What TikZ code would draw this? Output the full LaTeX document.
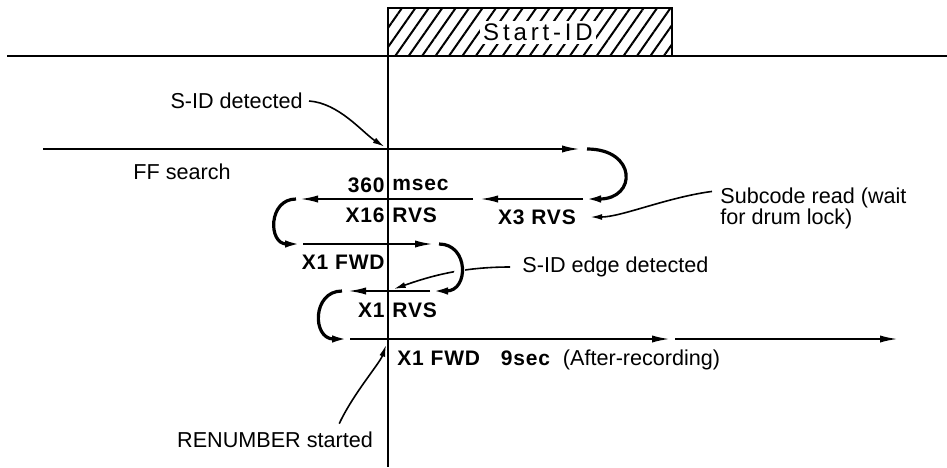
\documentclass[tikz,border=0pt]{standalone}
\usepackage{fontspec}
\setmainfont{Liberation Sans}
\newfontfamily\tapefont[LetterSpace=4]{Liberation Sans}
\newfontfamily\idfont[LetterSpace=16]{Liberation Sans}
\usepackage{tikz}
\usetikzlibrary{arrows.meta,positioning,patterns.meta}
\tikzset{
  >={Latex[length=9pt,width=3.6pt]},
  lab/.style={font=\fontsize{10.8}{13}\selectfont,inner sep=0pt},
  tlab/.style={font=\tapefont\bfseries\fontsize{10.5}{12}\selectfont,inner sep=0pt},
  idlab/.style={font=\idfont\fontsize{12}{14}\selectfont,fill=white,inner sep=1.5pt},
  thk/.style={line width=1pt},
  hatch/.style={thk,pattern={Lines[angle=55,distance=5.5pt,line width=1pt]}},
  tape/.style={->,line width=1pt},
  turn/.style={->,line width=1.6pt},
  lead/.style={-{Latex[length=6pt,width=3pt]},line width=0.8pt},
  halo/.style={preaction={draw=white,line width=5pt,-}},
}
\begin{document}
\begin{tikzpicture}[x=0.5pt,y=-0.5pt]
\useasboundingbox (0,0) rectangle (947,467);
\coordinate (gl) at (7,56); \coordinate (gr) at (947,56);
\coordinate (vt) at (388,8); \coordinate (vb) at (388,467); \coordinate (idr) at (672,56);
\draw[hatch] (vt) rectangle (idr);
\node[idlab] (startid) at (538,32) {Start-ID};
\draw[thk] (gl) -- (gr); \draw[thk] (vt) -- (vb);

\coordinate (a0) at (43,149); \coordinate (a1) at (580,149);
\coordinate (b0) at (583,199); \coordinate (b1) at (480,199);
\coordinate (b2) at (473,199); \coordinate (b3) at (300,199);
\coordinate (c0) at (303,244); \coordinate (c1) at (433,244);
\coordinate (d0) at (430,291); \coordinate (d1) at (348,291);
\coordinate (e0) at (350,339); \coordinate (e1) at (670,339);
\coordinate (e2) at (675,339); \coordinate (e3) at (898,339);
\coordinate (hit1) at (388,149); \coordinate (hit2) at (388,291); \coordinate (hit3) at (388,339);

\coordinate (m1) at (388,185); \coordinate (m2) at (388,215);
\coordinate (m3) at (388,262); \coordinate (m4) at (388,310);
\node[tlab,left=1.5pt of m1] (n360) {360}; \node[tlab,right=2pt of m1] (nmsec) {msec};
\node[tlab,left=1.5pt of m2] (n16) {X16}; \node[tlab,right=2pt of m2] (nrvs1) {RVS};
\node[tlab] (nx3) at (537,217) {X3 RVS};
\node[tlab,left=1.5pt of m3] (nfwd1) {X1 FWD};
\node[tlab,left=1.5pt of m4] (nx1) {X1}; \node[tlab,right=2pt of m4] (nrvs2) {RVS};
\node[tlab,anchor=west] (nfwd2) at (397,358) {X1 FWD};
\node[tlab,base right=10pt of nfwd2] (n9sec) {9sec};
\node[lab,base right=6pt of n9sec] (nafter) {(After-recording)};

\node[lab,anchor=east] (sidet) at (303,101) {S-ID detected};
\node[lab,anchor=west] (ffs) at (133,172) {FF search};
\node[lab,anchor=base west] (sub1) at (720,203) {Subcode read (wait};
\node[lab,anchor=base west] (sub2) at (720,224) {for drum lock)};
\node[lab,anchor=west] (sedge) at (522,267) {S-ID edge detected};
\node[lab] (renum) at (275,440) {RENUMBER started};

\draw[lead,shorten >=2pt] ([xshift=3pt]sidet.east) .. controls +(30,2) and +(-25,-16) .. (hit1);
\draw[lead,shorten >=7pt] ([xshift=-4pt,yshift=3pt]sub1.west) .. controls +(-45,6) and +(45,0) .. (nx3.east);
\draw[lead,shorten >=3pt] ([xshift=-6pt]sedge.west) .. controls +(-50,0) and +(40,-14) .. (hit2);
\draw[lead,shorten >=3pt] ([xshift=-17pt,yshift=4pt]renum.north east) .. controls +(14,-30) and +(-8,24) .. (hit3);

\draw[turn] ([xshift=3.5pt]a1) .. controls +(50,0) and +(54,0) .. (b0);
\draw[turn] ([xshift=-2pt]b3) .. controls +(-28,0) and +(-35,0) .. (c0);
\draw[turn,halo] ([xshift=3pt]c1) .. controls +(30,0) and +(39,0) .. (d0);
\draw[turn] ([xshift=-3pt]d1) .. controls +(-30,0) and +(-38,0) .. (e0);

\draw[tape] (a0) -- (a1); \draw[tape] (b0) -- (b1); \draw[tape] (b2) -- (b3);
\draw[tape] (c0) -- (c1); \draw[tape] (d0) -- (d1);
\draw[tape] (e0) -- (e1); \draw[tape] (e2) -- (e3);
\end{tikzpicture}
\end{document}
